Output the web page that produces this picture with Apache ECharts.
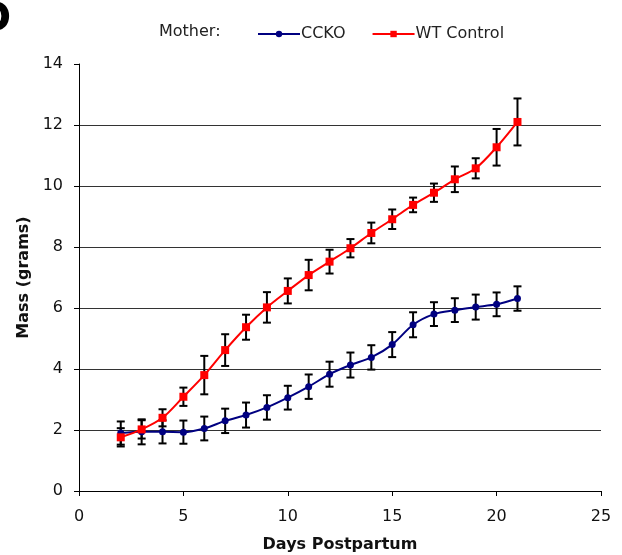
<!DOCTYPE html>
<html>
<head>
<meta charset="utf-8">
<script src="https://cdn.jsdelivr.net/npm/echarts@6/dist/echarts.min.js"></script>
<style>
html,body{margin:0;padding:0;background:#fff;}
#c{width:622px;height:555px;}
</style>
</head>
<body>
<div id="c"></div>
<script>
const days = [2,3,4,5,6,7,8,9,10,11,12,13,14,15,16,17,18,19,20,21];
const ccko = [1.90,1.94,1.94,1.93,2.05,2.30,2.49,2.74,3.06,3.42,3.83,4.13,4.38,4.80,5.45,5.80,5.93,6.03,6.12,6.31];
const ccko_err = [0.38,0.41,0.38,0.38,0.39,0.40,0.41,0.40,0.39,0.40,0.41,0.41,0.40,0.41,0.41,0.39,0.39,0.41,0.39,0.40];
const wt = [1.76,2.02,2.40,3.09,3.80,4.62,5.37,6.02,6.56,7.08,7.52,7.96,8.46,8.91,9.38,9.78,10.22,10.58,11.27,12.10];
const wt_err = [0.30,0.30,0.28,0.30,0.63,0.52,0.41,0.50,0.41,0.50,0.39,0.30,0.34,0.32,0.24,0.30,0.42,0.33,0.60,0.77];
const xTicks = [0,5,10,15,20,25];
const yTicks = [0,2,4,6,8,10,12,14];

const FONT = 'DejaVu Sans';
const chart = echarts.init(document.getElementById('c'));

function errData(vals, errs){ return days.map((d,i)=>[d, vals[i]-errs[i], vals[i]+errs[i]]); }
function errRender(params, api){
  const x = api.value(0), lo = api.value(1), hi = api.value(2);
  const a = api.coord([x, lo]), b = api.coord([x, hi]);
  const hw = 4;
  const st = {stroke:'#000', lineWidth:2};
  return {type:'group', children:[
    {type:'line', shape:{x1:a[0],y1:a[1],x2:b[0],y2:b[1]}, style:st},
    {type:'line', shape:{x1:a[0]-hw,y1:a[1],x2:a[0]+hw,y2:a[1]}, style:st},
    {type:'line', shape:{x1:b[0]-hw,y1:b[1],x2:b[0]+hw,y2:b[1]}, style:st}
  ]};
}

chart.setOption({
  animation:false,
  backgroundColor:'#fff',
  textStyle:{fontFamily:FONT},
  grid:{left:79, right:21, top:64, bottom:64, containLabel:false, outerBoundsMode:'none'},
  graphic:[
    {type:'text', left:-22, top:1, style:{text:'D', font:'bold 40px "DejaVu Sans"', fill:'#000'}},
    {type:'text', x:159, y:32, style:{text:'Mother:', font:'16px "DejaVu Sans"', fill:'#222', verticalAlign:'middle'}}
  ],
  legend:{
    left:252, top:21, itemWidth:42, itemHeight:8, itemGap:26,
    data:['CCKO','WT Control'],
    textStyle:{fontFamily:FONT, fontSize:16, color:'#222', padding:[0,0,0,-4]}
  },
  xAxis:{
    type:'value', min:0, max:25, interval:5,
    name:'Days Postpartum', nameLocation:'middle', nameGap:46,
    nameTextStyle:{fontFamily:FONT, fontSize:16, fontWeight:'bold', color:'#111'},
    axisLine:{lineStyle:{color:'#000', width:1}},
    axisTick:{show:true, length:5, lineStyle:{color:'#000'}},
    axisLabel:{fontFamily:FONT, fontSize:16, color:'#111', margin:18, formatter:v=>xTicks.includes(v)?String(v):''},
    splitLine:{show:false}
  },
  yAxis:{
    type:'value', min:0, max:14, interval:2,
    name:'Mass (grams)', nameLocation:'middle', nameGap:44, nameRotate:90,
    nameTextStyle:{fontFamily:FONT, fontSize:16, fontWeight:'bold', color:'#111'},
    axisLine:{show:true, lineStyle:{color:'#000', width:1}},
    axisTick:{show:true, length:5, lineStyle:{color:'#000'}},
    axisLabel:{fontFamily:FONT, fontSize:16, color:'#111', margin:16, formatter:v=>yTicks.includes(v)?String(v):''},
    splitLine:{show:true, showMaxLine:false, lineStyle:{color:'#333', width:1}}
  },
  series:[
    {type:'custom', name:'ccko_err', renderItem:errRender, data:errData(ccko, ccko_err), encode:{x:0,y:[1,2]}, z:2, silent:true},
    {type:'custom', name:'wt_err', renderItem:errRender, data:errData(wt, wt_err), encode:{x:0,y:[1,2]}, z:2, silent:true},
    {type:'line', name:'CCKO', data:days.map((d,i)=>[d,ccko[i]]), smooth:0.3,
      symbol:'circle', symbolSize:7, itemStyle:{color:'#000080'}, lineStyle:{color:'#000080', width:2}, z:3},
    {type:'line', name:'WT Control', data:days.map((d,i)=>[d,wt[i]]), smooth:0.3,
      symbol:'rect', symbolSize:8, itemStyle:{color:'#ff0000'}, lineStyle:{color:'#ff0000', width:2}, z:4}
  ]
});
</script>
</body>
</html>
